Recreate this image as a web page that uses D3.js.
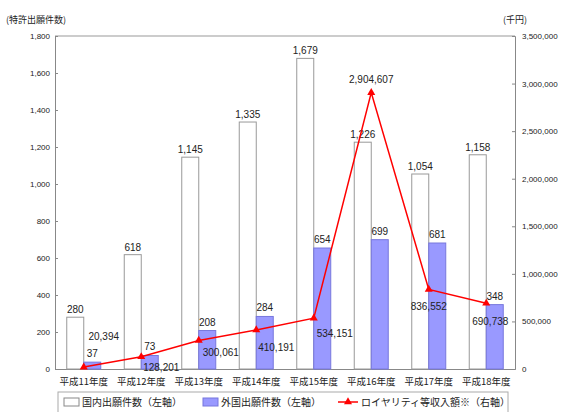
<!DOCTYPE html>
<html>
<head>
<meta charset="utf-8">
<script src="https://cdn.jsdelivr.net/npm/d3@7"></script>
<style>
  body { margin: 0; background: #fff; }
  text { font-family: "Liberation Sans", Arial, sans-serif; fill: #222; }
  .jp { font-family: "Noto Sans CJK JP", sans-serif; }
</style>
</head>
<body>
<div id="chart-area"></div>
<script>
// data
const categories = ["平成11年度", "平成12年度", "平成13年度", "平成14年度", "平成15年度", "平成16年度", "平成17年度", "平成18年度"];
const domestic = [280, 618, 1145, 1335, 1679, 1226, 1054, 1158];
const foreign = [37, 73, 208, 284, 654, 699, 681, 348];
const royalty = [20394, 128201, 300061, 410191, 534151, 2904607, 836552, 690738];
const leftTicks = [0, 200, 400, 600, 800, 1000, 1200, 1400, 1600, 1800];
const rightTicks = [0, 500000, 1000000, 1500000, 2000000, 2500000, 3000000, 3500000];
const legendNames = ["国内出願件数（左軸）", "外国出願件数（左軸）", "ロイヤリティ等収入額※（右軸）"];

// label offsets for the royalty values (layout only)
const royaltyLabelOff = [[20, -31], [20, 10], [22, 12], [20, 17], [21, 15], [0, -14], [0, 17], [4, 18]];

const W = 561, H = 412;
const plot = {left: 55, right: 515, top: 36, bottom: 369};
const fmt = d3.format(",");

const svg = d3.select("#chart-area")
  .append("svg")
    .attr("width", W)
    .attr("height", H);

const x = d3.scaleBand()
  .domain(categories)
  .range([plot.left, plot.right]);

const sub = d3.scaleBand()
  .domain(["dom", "for"])
  .range([0, 34]);
const off = (x.bandwidth() - 34) / 2;

const yL = d3.scaleLinear().domain([0, 1800]).range([plot.bottom, plot.top]);
const yR = d3.scaleLinear().domain([0, 3500000]).range([plot.bottom, plot.top]);

// frame top line
svg.append("line")
  .attr("x1", plot.left).attr("x2", plot.right)
  .attr("y1", plot.top).attr("y2", plot.top)
  .attr("stroke", "#999");

// left axis
const gL = svg.append("g")
  .attr("transform", `translate(${plot.left},0)`)
  .call(d3.axisRight(yL).tickValues(leftTicks).tickFormat(fmt).tickSize(3));
gL.select(".domain").attr("stroke", "#888");
gL.selectAll(".tick line").attr("stroke", "#888");
gL.selectAll(".tick text")
  .attr("x", -5)
  .attr("text-anchor", "end")
  .style("font-size", "8px")
  .attr("fill", "#333");

// right axis
const gR = svg.append("g")
  .attr("transform", `translate(${plot.right},0)`)
  .call(d3.axisLeft(yR).tickValues(rightTicks).tickFormat(fmt).tickSize(3));
gR.select(".domain").attr("stroke", "#888");
gR.selectAll(".tick line").attr("stroke", "#888");
gR.selectAll(".tick text")
  .attr("x", 7)
  .attr("text-anchor", "start")
  .style("font-size", "8px")
  .attr("fill", "#333");

// bottom axis
const gB = svg.append("g")
  .attr("transform", `translate(0,${plot.bottom})`)
  .call(d3.axisBottom(x).tickSize(0));
gB.select(".domain").attr("stroke", "#888");
gB.selectAll(".tick text")
  .attr("class", "jp")
  .attr("y", 9)
  .style("font-size", "9.5px")
  .attr("fill", "#222");

// axis titles
svg.append("text").attr("class", "jp")
  .attr("x", 6).attr("y", 23)
  .style("font-size", "9px")
  .text("(特許出願件数)");
svg.append("text").attr("class", "jp")
  .attr("x", 503).attr("y", 23)
  .style("font-size", "9px")
  .text("(千円)");

// domestic bars
svg.selectAll(".dom")
  .data(domestic)
  .enter()
  .append("rect")
    .attr("x", (d, i) => x(categories[i]) + off + sub("dom"))
    .attr("y", d => yL(d))
    .attr("width", sub.bandwidth())
    .attr("height", d => yL(0) - yL(d))
    .attr("fill", "#fff")
    .attr("stroke", "#999");

// foreign bars
svg.selectAll(".for")
  .data(foreign)
  .enter()
  .append("rect")
    .attr("x", (d, i) => x(categories[i]) + off + sub("for"))
    .attr("y", d => yL(d))
    .attr("width", sub.bandwidth())
    .attr("height", d => yL(0) - yL(d))
    .attr("fill", "#9999ff")
    .attr("stroke", "#7777dd");

// bar labels
svg.selectAll(".domLab")
  .data(domestic)
  .enter()
  .append("text")
    .attr("x", (d, i) => x(categories[i]) + off + sub("dom") + sub.bandwidth() / 2)
    .attr("y", d => yL(d) - 4)
    .attr("text-anchor", "middle")
    .style("font-size", "10px")
    .text(d => fmt(d));

svg.selectAll(".forLab")
  .data(foreign)
  .enter()
  .append("text")
    .attr("x", (d, i) => x(categories[i]) + off + sub("for") + sub.bandwidth() / 2)
    .attr("y", d => yL(d) - 5)
    .attr("text-anchor", "middle")
    .style("font-size", "10px")
    .text(d => fmt(d));

// royalty line
const cx = (d, i) => x(categories[i]) + x.bandwidth() / 2;
svg.append("path")
  .datum(royalty)
  .attr("fill", "none")
  .attr("stroke", "#ff0000")
  .attr("stroke-width", 1.5)
  .attr("d", d3.line().x(cx).y(d => yR(d)));

const tri = d3.symbol().type(d3.symbolTriangle).size(28);
svg.selectAll(".mk")
  .data(royalty)
  .enter()
  .append("path")
    .attr("d", tri)
    .attr("transform", (d, i) => `translate(${cx(d, i)},${yR(d)})`)
    .attr("fill", "#ff0000");

svg.selectAll(".rLab")
  .data(royalty)
  .enter()
  .append("text")
    .attr("x", (d, i) => cx(d, i) + royaltyLabelOff[i][0])
    .attr("y", (d, i) => yR(d) + royaltyLabelOff[i][1] + 4)
    .attr("text-anchor", "middle")
    .style("font-size", "10px")
    .attr("fill", "#222")
    .text(d => fmt(d));

// legend
const lg = svg.append("g");
lg.append("rect")
  .attr("x", 58).attr("y", 392)
  .attr("width", 450).attr("height", 30)
  .attr("fill", "#fff")
  .attr("stroke", "#aaa");

lg.append("rect")
  .attr("x", 64).attr("y", 398).attr("width", 15).attr("height", 8)
  .attr("fill", "#fff").attr("stroke", "#888");
lg.append("text").attr("class", "jp")
  .attr("x", 82).attr("y", 406)
  .style("font-size", "10px")
  .text(legendNames[0]);

lg.append("rect")
  .attr("x", 203).attr("y", 398).attr("width", 15).attr("height", 8)
  .attr("fill", "#9999ff").attr("stroke", "#7777dd");
lg.append("text").attr("class", "jp")
  .attr("x", 221).attr("y", 406)
  .style("font-size", "10px")
  .text(legendNames[1]);

lg.append("line")
  .attr("x1", 338).attr("x2", 358)
  .attr("y1", 402).attr("y2", 402)
  .attr("stroke", "#ff0000").attr("stroke-width", 1.5);
lg.append("path")
  .attr("d", tri)
  .attr("transform", "translate(348,402)")
  .attr("fill", "#ff0000");
lg.append("text").attr("class", "jp")
  .attr("x", 361).attr("y", 406)
  .style("font-size", "10px")
  .text(legendNames[2]);
</script>
</body>
</html>
